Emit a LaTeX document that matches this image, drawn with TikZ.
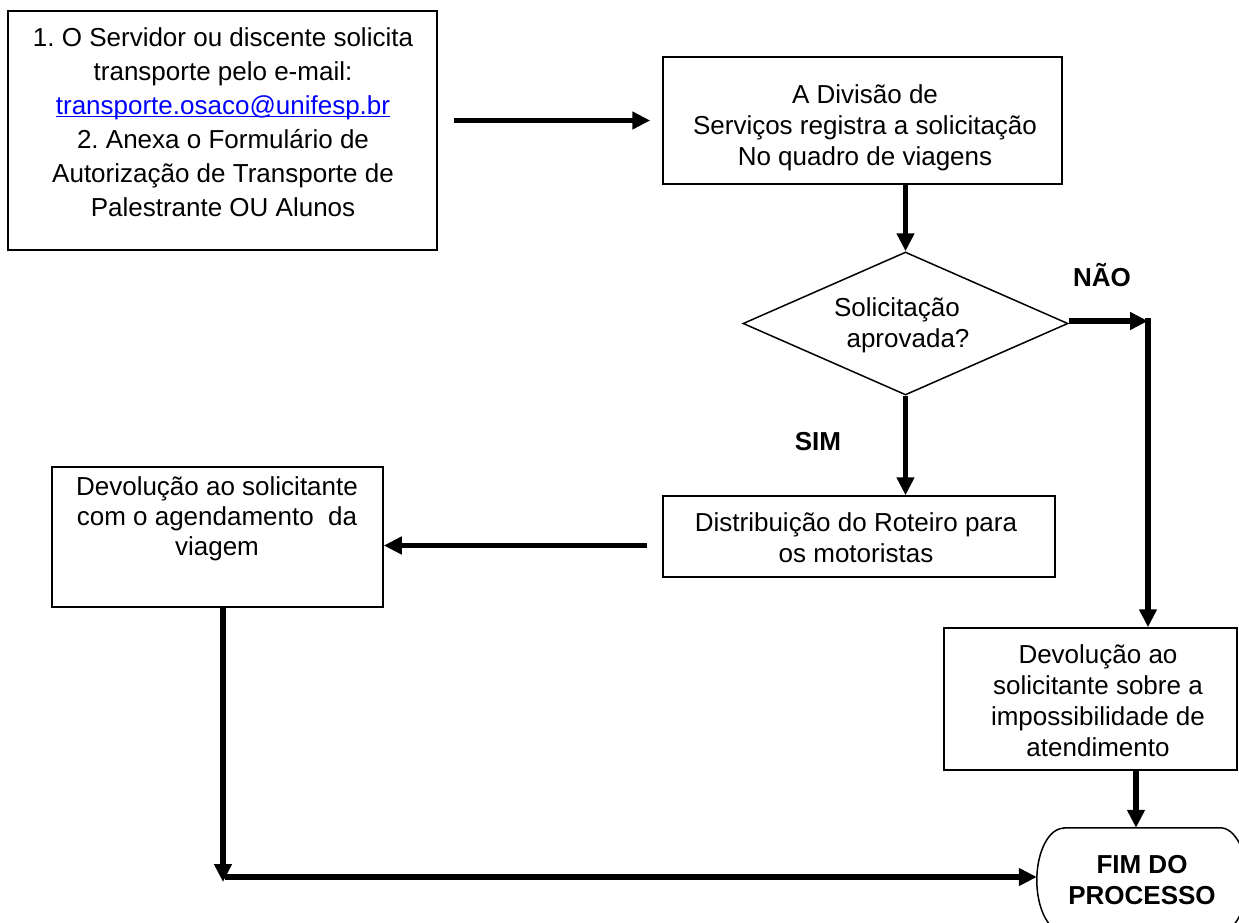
\documentclass[tikz,border=0pt]{standalone}
\usepackage{fontspec}
\setmainfont{Liberation Sans}
\usetikzlibrary{arrows.meta,shapes.geometric}
\definecolor{linkblue}{RGB}{0,0,255}
\newcommand\mylinkul[1]{\setbox0\hbox{#1}\rlap{\rule[-3pt]{\wd0}{1.3pt}}\box0}
\begin{document}
\frenchspacing
\begin{tikzpicture}[x=1pt,y=-1pt,
  boxline/.style={draw=black, line width=1.5pt},
  box/.style={boxline, rectangle, inner sep=0pt},
  txt/.style={align=center, inner sep=0pt, font=\fontsize{26}{31}\selectfont},
  lbl/.style={inner sep=0pt, font=\fontsize{26}{31}\selectfont\bfseries},
  conn/.style={line width=5.8pt},
  arr/.style={conn, -{Triangle[length=18pt,width=17pt]}},
]
\useasboundingbox (0,0) rectangle (1239,923);
\clip (0,0) rectangle (1239,923);

% boxes
\node[box, minimum width=429pt, minimum height=239pt] (b1) at (222.5,130.5) {};
\node[txt, font=\fontsize{26}{34}\selectfont] (t1) at (223,122) {1. O Servidor ou discente solicita\\transporte pelo e-mail:\\{\color{linkblue}\mylinkul{transporte.osaco@unifesp.br}}\\2. Anexa o Formulário de\\Autorização de Transporte de\\Palestrante OU Alunos};

\node[box, minimum width=399pt, minimum height=127pt] (b2) at (862.5,120.5) {};
\node[txt] (t2) at (865,128) {A Divisão de\\Serviços registra a solicitação\\No quadro de viagens};

\node[diamond, boxline, inner sep=0pt, minimum width=325pt, minimum height=143pt] (dia) at (905.5,323.5) {};
\node[txt] (t3) at (900,325) {Solicitação\hspace*{6pt}\\\hspace*{16pt}aprovada?};

\node[box, minimum width=392pt, minimum height=81pt] (b5) at (859,536.5) {};
\node[txt] (t5) at (856,538) {Distribuição do Roteiro para\\os motoristas};

\node[box, minimum width=331pt, minimum height=140pt] (b3) at (217.5,537) {};
\node[txt, font=\fontsize{26}{30}\selectfont] (t4) at (217,519) {Devolução ao solicitante\\com o agendamento\ \ da\\viagem};

\node[box, minimum width=293pt, minimum height=142pt] (b4) at (1090.5,699) {};
\node[txt] (t6) at (1098,700.5) {Devolução ao\\solicitante sobre a\\impossibilidade de\\atendimento};

\node[txt, font=\fontsize{26}{31}\selectfont\bfseries, minimum width=210pt, minimum height=104pt] (fim) at (1142,880) {FIM DO\\PROCESSO};
\draw[boxline] ([xshift=27pt]fim.north west) -- ([xshift=-27pt]fim.north east)
  arc[start angle=90, end angle=-90, x radius=27pt, y radius=52pt]
  -- ([xshift=27pt]fim.south west)
  arc[start angle=270, end angle=90, x radius=27pt, y radius=52pt] -- cycle;

% labels
\node[lbl] (nao) at (1102,275) {NÃO};
\node[lbl] (sim) at (818,442) {SIM};

% connectors
\draw[arr, shorten <=16pt, shorten >=12pt] (b1.east |- b2.west) -- (b2.west);
\draw[arr] (b2.south -| dia.north) -- (dia.north);

\coordinate (nc) at (1148,321);
\draw[arr] (dia.east |- nc) -- (nc);
\draw[arr] ([yshift=2.9pt]nc) -- (b4.north -| nc);

\draw[arr] (dia.south) -- (b5.north -| dia.south);
\coordinate (lw) at ([yshift=-9pt]b5.west);
\draw[arr, shorten <=15pt] (lw) -- (lw -| b3.east);

\coordinate (bl) at (223,882);
\draw[arr] (b3.south -| bl) -- (bl);
\coordinate (hl) at (225,877);
\draw[arr] (hl) -- (hl -| fim.west);

\coordinate (fa) at ([xshift=-6pt]fim.north);
\draw[arr] (fa |- b4.south) -- (fa);
\end{tikzpicture}
\end{document}
